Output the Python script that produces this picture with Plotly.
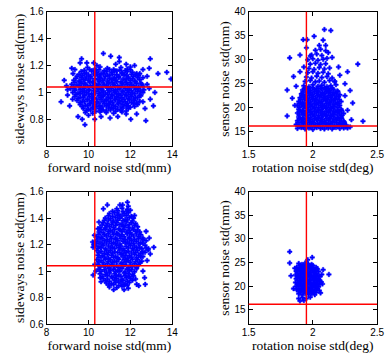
import plotly.graph_objects as go

# ---- reference (red) lines ----
fwd_ref = 10.3
side_ref = 1.04
rot_ref = 1.95
sensor_ref = 16.2

# ---- panel 1: forward vs sideways noise ----
p1 = [
    (9.95,1.185),(10.3,1.175),(10.55,1.19),(10.9,1.18),(11.2,1.17),(11.55,1.185),(11.85,1.175),
    (9.65,1.155),(9.9,1.145),(10.15,1.16),(10.4,1.15),(10.6,1.14),(10.85,1.155),(11.1,1.15),(11.35,1.16),(11.6,1.145),(11.85,1.155),(12.1,1.15),(12.3,1.14),
    (9.45,1.12),(9.7,1.125),(9.9,1.115),(10.1,1.12),(10.35,1.13),(10.55,1.115),(10.8,1.12),(11.0,1.125),(11.25,1.11),(11.45,1.12),(11.7,1.13),(11.9,1.115),(12.15,1.12),(12.4,1.125),(12.6,1.11),
    (9.3,1.09),(9.55,1.085),(9.75,1.095),(10.0,1.09),(10.2,1.08),(10.45,1.095),(10.65,1.09),(10.9,1.085),(11.1,1.095),(11.3,1.09),(11.55,1.08),(11.75,1.095),(12.0,1.09),(12.2,1.085),(12.45,1.095),
    (9.2,1.06),(9.45,1.055),(9.65,1.065),(9.85,1.06),(10.1,1.05),(10.3,1.065),(10.5,1.06),(10.75,1.055),(10.95,1.065),(11.2,1.06),(11.4,1.05),(11.6,1.065),(11.85,1.06),(12.05,1.055),(12.3,1.065),(12.55,1.06),
    (9.15,1.03),(9.35,1.025),(9.6,1.035),(9.8,1.03),(10.0,1.02),(10.25,1.035),(10.45,1.03),(10.65,1.025),(10.9,1.035),(11.1,1.03),(11.3,1.02),(11.5,1.035),(11.75,1.03),(11.95,1.025),(12.2,1.035),(12.4,1.03),(12.65,1.02),
    (9.25,1.0),(9.5,0.995),(9.7,1.005),(9.9,1.0),(10.15,0.99),(10.35,1.005),(10.6,1.0),(10.8,0.995),(11.0,1.005),(11.25,1.0),(11.45,0.99),(11.65,1.005),(11.9,1.0),(12.1,0.995),(12.35,1.005),(12.6,1.0),
    (9.35,0.97),(9.6,0.965),(9.8,0.975),(10.05,0.97),(10.25,0.96),(10.5,0.975),(10.7,0.97),(10.95,0.965),(11.15,0.975),(11.35,0.97),(11.6,0.96),(11.8,0.975),(12.05,0.97),(12.25,0.965),(12.5,0.975),
    (9.45,0.94),(9.7,0.935),(9.95,0.945),(10.15,0.94),(10.4,0.93),(10.6,0.945),(10.85,0.94),(11.05,0.935),(11.3,0.945),(11.5,0.94),(11.75,0.93),(11.95,0.945),(12.2,0.94),(12.45,0.935),
    (9.6,0.91),(9.85,0.905),(10.1,0.915),(10.3,0.91),(10.55,0.9),(10.75,0.915),(11.0,0.91),(11.2,0.905),(11.45,0.915),(11.65,0.91),(11.9,0.9),(12.15,0.915),(12.35,0.91),
    (9.75,0.88),(10.0,0.875),(10.25,0.885),(10.5,0.88),(10.7,0.87),(10.95,0.885),(11.2,0.88),(11.4,0.875),(11.65,0.885),(11.9,0.88),
    (9.85,0.85),(10.2,0.845),(10.55,0.855),(10.85,0.85),(11.2,0.845),(11.6,0.855),
    (8.69,0.93),(8.84,1.09),(8.95,1.05),(9.0,0.98),(9.1,0.9),(9.24,0.95),(9.26,1.14),(9.35,1.17),(9.67,1.25),(9.6,1.22),
    (9.92,1.22),(10.25,1.22),(10.4,1.2),(10.71,1.29),(11.06,1.27),(11.3,1.21),(11.47,1.23),(11.47,1.26),(11.8,1.21),(12.0,1.19),
    (12.2,1.2),(12.6,1.17),(12.95,1.25),(12.9,1.18),(12.8,1.12),(13.32,1.14),(13.74,1.15),(13.94,1.1),(12.74,0.79),(9.83,0.76),
    (11.03,0.81),(12.02,0.8),(13.1,0.9),(13.17,1.0),(12.9,1.03),(12.95,0.95),(9.5,0.82),(9.7,0.8),(10.3,0.8),(10.6,0.82),
    (11.4,0.82),(12.3,0.84),(12.7,0.88),(9.2,1.18),(9.0,1.02),(12.8,1.06),(10.0,0.83),(11.8,0.84),(12.6,0.93),
]
p1_core = [
    (9.8,1.165),(10.05,1.17),(10.3,1.16),(10.5,1.168),(10.75,1.162),(11.0,1.17),(11.25,1.16),(11.5,1.166),(11.75,1.162),(12.0,1.168),
    (9.55,1.135),(9.8,1.14),(10.0,1.13),(10.25,1.138),(10.45,1.132),(10.7,1.14),(10.9,1.13),(11.15,1.136),(11.35,1.132),(11.6,1.14),(11.8,1.13),(12.05,1.136),(12.25,1.132),(12.45,1.14),
    (9.4,1.105),(9.65,1.11),(9.85,1.1),(10.1,1.108),(10.3,1.102),(10.55,1.11),(10.75,1.1),(11.0,1.106),(11.2,1.102),(11.45,1.11),(11.65,1.1),(11.9,1.106),(12.1,1.102),(12.35,1.11),
    (9.35,1.075),(9.6,1.08),(9.8,1.07),(10.05,1.078),(10.25,1.072),(10.5,1.08),(10.7,1.07),(10.95,1.076),(11.15,1.072),(11.35,1.08),(11.6,1.07),(11.8,1.076),(12.0,1.072),(12.25,1.08),(12.5,1.07),
    (9.3,1.045),(9.55,1.05),(9.75,1.04),(9.95,1.048),(10.2,1.042),(10.4,1.05),(10.6,1.04),(10.85,1.046),(11.05,1.042),(11.25,1.05),(11.5,1.04),(11.7,1.046),(11.95,1.042),(12.15,1.05),(12.4,1.04),(12.6,1.046),
    (9.35,1.015),(9.6,1.02),(9.8,1.01),(10.05,1.018),(10.25,1.012),(10.5,1.02),(10.7,1.01),(10.95,1.016),(11.2,1.012),(11.4,1.02),(11.6,1.01),(11.85,1.016),(12.05,1.012),(12.25,1.02),(12.5,1.01),
    (9.4,0.985),(9.6,0.99),(9.8,0.98),(10.0,0.988),(10.25,0.982),(10.5,0.99),(10.7,0.98),(10.9,0.986),(11.1,0.982),(11.35,0.99),(11.55,0.98),(11.75,0.986),(12.0,0.982),(12.2,0.99),(12.45,0.98),
    (9.5,0.955),(9.75,0.96),(9.95,0.95),(10.2,0.958),(10.4,0.952),(10.6,0.96),(10.85,0.95),(11.05,0.956),(11.25,0.952),(11.45,0.96),(11.7,0.95),(11.9,0.956),(12.15,0.952),(12.35,0.96),
    (9.6,0.925),(9.8,0.93),(10.05,0.92),(10.25,0.928),(10.5,0.922),(10.7,0.93),(10.95,0.92),(11.15,0.926),(11.4,0.922),(11.6,0.93),(11.85,0.92),(12.05,0.926),(12.3,0.922),
    (9.7,0.895),(9.95,0.9),(10.2,0.89),(10.4,0.898),(10.65,0.892),(10.85,0.9),(11.1,0.89),(11.3,0.896),(11.55,0.892),(11.8,0.9),(12.0,0.89),(12.2,0.896),
    (9.9,0.865),(10.1,0.87),(10.35,0.86),(10.6,0.868),(10.85,0.862),(11.05,0.87),(11.3,0.86),(11.55,0.866),(11.8,0.862),
]

# ---- panel 2: rotation vs sensor noise ----
p2 = [
    (1.88,15.7),(1.91,15.9),(1.94,15.6),(1.97,15.8),(2.0,15.5),(2.03,15.9),(2.06,15.7),(2.09,15.6),(2.12,15.8),(2.15,15.6),(2.18,15.9),(2.21,15.7),(2.24,15.8),
    (1.87,16.5),(1.9,16.3),(1.93,16.7),(1.96,16.4),(1.99,16.6),(2.02,16.3),(2.05,16.5),(2.08,16.7),(2.11,16.4),(2.14,16.6),(2.17,16.3),(2.2,16.5),(2.23,16.7),(2.26,16.4),
    (1.88,17.3),(1.91,17.5),(1.94,17.2),(1.97,17.4),(2.0,17.1),(2.03,17.5),(2.06,17.3),(2.09,17.2),(2.12,17.4),(2.15,17.1),(2.18,17.5),(2.21,17.3),(2.24,17.2),
    (1.89,18.1),(1.92,17.9),(1.95,18.3),(1.98,18.0),(2.01,18.2),(2.04,17.9),(2.07,18.1),(2.1,18.3),(2.13,18.0),(2.16,18.2),(2.19,17.9),(2.22,18.1),
    (1.88,18.9),(1.91,19.1),(1.94,18.8),(1.97,19.0),(2.0,18.7),(2.03,19.1),(2.06,18.9),(2.09,18.8),(2.12,19.0),(2.15,18.7),(2.18,19.1),(2.21,18.9),(2.24,18.8),
    (1.89,19.7),(1.92,19.5),(1.95,19.9),(1.98,19.6),(2.01,19.8),(2.04,19.5),(2.07,19.7),(2.1,19.9),(2.13,19.6),(2.16,19.8),(2.19,19.5),(2.22,19.7),
    (1.88,20.5),(1.91,20.7),(1.94,20.4),(1.97,20.6),(2.0,20.3),(2.03,20.7),(2.06,20.5),(2.09,20.4),(2.12,20.6),(2.15,20.3),(2.18,20.7),(2.21,20.5),
    (1.89,21.3),(1.92,21.1),(1.95,21.5),(1.98,21.2),(2.01,21.4),(2.04,21.1),(2.07,21.3),(2.1,21.5),(2.13,21.2),(2.16,21.4),(2.19,21.1),(2.22,21.3),
    (1.9,22.1),(1.93,22.3),(1.96,22.0),(1.99,22.2),(2.02,21.9),(2.05,22.3),(2.08,22.1),(2.11,22.0),(2.14,22.2),(2.17,21.9),(2.2,22.3),
    (1.91,22.9),(1.94,22.7),(1.97,23.1),(2.0,22.8),(2.03,23.0),(2.06,22.7),(2.09,22.9),(2.12,23.1),(2.15,22.8),(2.18,23.0),(2.21,22.7),
    (1.92,23.7),(1.95,23.9),(1.98,23.6),(2.01,23.8),(2.04,23.5),(2.07,23.9),(2.1,23.7),(2.13,23.6),(2.16,23.8),(2.19,23.5),
    (1.93,24.6),(1.97,24.4),(2.0,24.8),(2.04,24.5),(2.07,24.7),(2.11,24.4),(2.14,24.6),(2.18,24.8),
    (1.94,25.5),(1.98,25.7),(2.02,25.4),(2.05,25.6),(2.09,25.3),(2.13,25.7),(2.17,25.5),
    (1.95,26.4),(1.99,26.2),(2.03,26.6),(2.07,26.3),(2.11,26.5),(2.15,26.2),
    (1.96,27.3),(2.0,27.5),(2.04,27.2),(2.08,27.4),(2.12,27.1),
    (1.97,28.2),(2.01,28.0),(2.05,28.4),(2.09,28.1),(2.13,28.3),
    (1.98,29.1),(2.02,29.3),(2.06,29.0),(2.1,29.2),
    (1.96,30.0),(2.0,30.2),(2.04,29.9),(2.08,30.1),(2.11,30.3),
    (1.99,31.0),(2.03,31.2),(2.07,30.9),
    (2.02,32.0),(2.06,32.2),(2.1,31.9),
    (1.82,30.4),(1.8,23.7),(1.8,18.3),(1.9,31.0),(1.925,34.2),(1.955,34.2),(2.01,34.9),(2.09,36.3),(2.14,36.1),(2.08,34.1),
    (2.1,33.0),(2.35,29.1),(2.39,17.2),(2.29,23.6),(2.29,16.0),(2.21,26.8),(2.27,27.5),(1.85,26.5),(1.86,20.5),(1.84,22.0),
    (2.25,22.5),(2.27,19.5),(2.3,17.5),(2.2,28.5),(2.15,30.5),(1.93,28.5),(1.9,27.5),(1.95,32.5),(2.05,33.0),(2.17,25.5),
    (2.25,25.0),(2.12,31.5),(1.98,30.8),(1.87,24.5),(2.31,21.0),(2.24,16.8),(2.27,15.8),
]
p2_core = [
    (1.895,16.1),(1.925,16.0),(1.955,16.2),(1.985,16.0),(2.015,16.1),(2.045,16.2),(2.075,16.0),(2.105,16.1),(2.135,16.2),(2.165,16.0),(2.195,16.1),(2.225,16.2),(2.255,16.0),
    (1.885,16.9),(1.915,17.0),(1.945,16.8),(1.975,17.0),(2.005,16.9),(2.035,16.8),(2.065,17.0),(2.095,16.9),(2.125,16.8),(2.155,17.0),(2.185,16.9),(2.215,16.8),(2.245,17.0),
    (1.895,17.7),(1.925,17.6),(1.955,17.8),(1.985,17.6),(2.015,17.7),(2.045,17.8),(2.075,17.6),(2.105,17.7),(2.135,17.8),(2.165,17.6),(2.195,17.7),(2.225,17.8),
    (1.895,18.5),(1.925,18.6),(1.955,18.4),(1.985,18.6),(2.015,18.5),(2.045,18.4),(2.075,18.6),(2.105,18.5),(2.135,18.4),(2.165,18.6),(2.195,18.5),(2.225,18.4),
    (1.895,19.3),(1.925,19.2),(1.955,19.4),(1.985,19.2),(2.015,19.3),(2.045,19.4),(2.075,19.2),(2.105,19.3),(2.135,19.4),(2.165,19.2),(2.195,19.3),(2.225,19.4),
    (1.895,20.1),(1.925,20.2),(1.955,20.0),(1.985,20.2),(2.015,20.1),(2.045,20.0),(2.075,20.2),(2.105,20.1),(2.135,20.0),(2.165,20.2),(2.195,20.1),
    (1.895,20.9),(1.925,20.8),(1.955,21.0),(1.985,20.8),(2.015,20.9),(2.045,21.0),(2.075,20.8),(2.105,20.9),(2.135,21.0),(2.165,20.8),(2.195,20.9),
    (1.905,21.7),(1.935,21.8),(1.965,21.6),(1.995,21.8),(2.025,21.7),(2.055,21.6),(2.085,21.8),(2.115,21.7),(2.145,21.6),(2.175,21.8),(2.205,21.7),
    (1.915,22.5),(1.945,22.4),(1.975,22.6),(2.005,22.4),(2.035,22.5),(2.065,22.6),(2.095,22.4),(2.125,22.5),(2.155,22.6),(2.185,22.4),
    (1.925,23.3),(1.955,23.4),(1.985,23.2),(2.015,23.4),(2.045,23.3),(2.075,23.2),(2.105,23.4),(2.135,23.3),(2.165,23.2),(2.195,23.4),
    (1.94,24.1),(1.97,24.0),(2.0,24.2),(2.03,24.0),(2.06,24.1),(2.09,24.2),(2.12,24.0),(2.15,24.1),
]

# ---- panel 3: forward vs sideways noise (second run) ----
p3 = [
    (11.35,1.47),(11.6,1.475),(11.85,1.465),
    (11.0,1.435),(11.25,1.44),(11.45,1.43),(11.7,1.435),(11.9,1.44),
    (10.8,1.4),(11.05,1.395),(11.3,1.405),(11.5,1.4),(11.75,1.39),(11.95,1.405),(12.15,1.4),
    (10.7,1.365),(10.9,1.36),(11.15,1.37),(11.35,1.365),(11.6,1.355),(11.8,1.37),(12.05,1.365),(12.25,1.36),
    (10.55,1.33),(10.8,1.325),(11.0,1.335),(11.2,1.33),(11.45,1.32),(11.65,1.335),(11.9,1.33),(12.1,1.325),(12.35,1.335),
    (10.5,1.295),(10.7,1.29),(10.95,1.3),(11.15,1.295),(11.35,1.285),(11.6,1.3),(11.8,1.295),(12.0,1.29),(12.25,1.3),(12.45,1.295),
    (10.4,1.26),(10.6,1.255),(10.85,1.265),(11.05,1.26),(11.3,1.25),(11.5,1.265),(11.7,1.26),(11.95,1.255),(12.15,1.265),(12.4,1.26),(12.6,1.25),
    (10.35,1.225),(10.55,1.22),(10.75,1.23),(11.0,1.225),(11.2,1.215),(11.4,1.23),(11.65,1.225),(11.85,1.22),(12.05,1.23),(12.3,1.225),(12.5,1.215),(12.75,1.23),
    (10.3,1.19),(10.5,1.185),(10.7,1.195),(10.95,1.19),(11.15,1.18),(11.35,1.195),(11.55,1.19),(11.8,1.185),(12.0,1.195),(12.2,1.19),(12.45,1.18),(12.7,1.195),
    (10.4,1.155),(10.6,1.15),(10.85,1.16),(11.05,1.155),(11.25,1.145),(11.5,1.16),(11.7,1.155),(11.9,1.15),(12.15,1.16),(12.35,1.155),(12.6,1.145),(12.85,1.16),
    (10.45,1.12),(10.65,1.115),(10.9,1.125),(11.1,1.12),(11.3,1.11),(11.55,1.125),(11.75,1.12),(11.95,1.115),(12.2,1.125),(12.4,1.12),(12.6,1.11),
    (10.4,1.085),(10.6,1.08),(10.8,1.09),(11.05,1.085),(11.25,1.075),(11.45,1.09),(11.7,1.085),(11.9,1.08),(12.1,1.09),(12.35,1.085),(12.55,1.075),
    (10.45,1.05),(10.7,1.045),(10.9,1.055),(11.1,1.05),(11.35,1.04),(11.55,1.055),(11.75,1.05),(12.0,1.045),(12.2,1.055),(12.4,1.05),
    (10.5,1.015),(10.75,1.01),(10.95,1.02),(11.2,1.015),(11.4,1.005),(11.6,1.02),(11.85,1.015),(12.05,1.01),(12.3,1.02),
    (10.55,0.98),(10.8,0.975),(11.0,0.985),(11.25,0.98),(11.45,0.97),(11.7,0.985),(11.9,0.98),(12.1,0.975),
    (10.7,0.945),(10.9,0.94),(11.15,0.95),(11.35,0.945),(11.6,0.935),(11.8,0.95),(12.0,0.945),(12.25,0.94),
    (10.85,0.91),(11.1,0.905),(11.3,0.915),(11.55,0.91),(11.75,0.9),(11.95,0.915),
    (11.0,0.88),(11.35,0.875),(11.6,0.885),(11.9,0.87),
    (10.25,1.2),(10.22,1.18),(10.2,1.22),(10.28,1.27),(10.22,0.97),(10.3,1.05),(10.35,1.0),(10.56,0.95),(12.71,0.9),(12.4,0.89),
    (10.71,1.47),(11.63,1.5),(11.86,1.52),(11.9,1.49),(12.86,1.17),(13.12,1.18),(12.95,1.13),(12.9,1.25),(12.68,0.95),(12.6,1.0),
    (10.9,1.5),(12.2,1.42),(12.0,1.46),(10.5,1.37),(10.45,1.32),(11.2,0.86),(11.7,0.86),(12.3,0.9),(10.6,0.92),(12.8,1.08),
    (12.75,1.3),(11.5,1.5),
]
p3_core = [
    (11.15,1.452),(11.4,1.456),(11.65,1.448),(11.85,1.454),
    (10.95,1.418),(11.15,1.414),(11.4,1.422),(11.6,1.416),(11.8,1.42),(12.05,1.414),
    (10.75,1.382),(10.95,1.386),(11.2,1.378),(11.4,1.384),(11.65,1.38),(11.85,1.386),(12.1,1.378),
    (10.65,1.348),(10.85,1.344),(11.1,1.352),(11.3,1.346),(11.5,1.35),(11.75,1.344),(11.95,1.352),(12.2,1.346),
    (10.6,1.312),(10.8,1.316),(11.05,1.308),(11.25,1.314),(11.5,1.31),(11.7,1.316),(11.95,1.308),(12.15,1.314),(12.35,1.31),
    (10.5,1.278),(10.75,1.274),(10.95,1.282),(11.2,1.276),(11.4,1.28),(11.6,1.274),(11.85,1.282),(12.05,1.276),(12.3,1.28),(12.5,1.274),
    (10.45,1.242),(10.65,1.246),(10.9,1.238),(11.1,1.244),(11.3,1.24),(11.55,1.246),(11.75,1.238),(11.95,1.244),(12.2,1.24),(12.4,1.246),(12.6,1.238),
    (10.4,1.208),(10.65,1.204),(10.85,1.212),(11.1,1.206),(11.3,1.21),(11.5,1.204),(11.75,1.212),(11.95,1.206),(12.15,1.21),(12.4,1.204),(12.6,1.212),
    (10.45,1.172),(10.6,1.176),(10.8,1.168),(11.05,1.174),(11.25,1.17),(11.45,1.176),(11.65,1.168),(11.9,1.174),(12.1,1.17),(12.3,1.176),(12.55,1.168),(12.75,1.174),
    (10.5,1.138),(10.75,1.134),(10.95,1.142),(11.15,1.136),(11.4,1.14),(11.6,1.134),(11.8,1.142),(12.05,1.136),(12.25,1.14),(12.5,1.134),(12.7,1.142),
    (10.5,1.102),(10.75,1.106),(10.95,1.098),(11.2,1.104),(11.4,1.1),(11.65,1.106),(11.85,1.098),(12.05,1.104),(12.3,1.1),(12.5,1.106),
    (10.5,1.068),(10.7,1.064),(10.95,1.072),(11.15,1.066),(11.35,1.07),(11.6,1.064),(11.8,1.072),(12.0,1.066),(12.25,1.07),(12.45,1.064),
    (10.55,1.032),(10.8,1.036),(11.0,1.028),(11.25,1.034),(11.45,1.03),(11.65,1.036),(11.9,1.028),(12.1,1.034),(12.3,1.03),
    (10.6,0.998),(10.85,0.994),(11.05,1.002),(11.3,0.996),(11.5,1.0),(11.75,0.994),(11.95,1.002),(12.2,0.996),
    (10.65,0.962),(10.9,0.966),(11.1,0.958),(11.3,0.964),(11.55,0.96),(11.75,0.966),(11.95,0.958),(12.15,0.964),
    (10.8,0.928),(11.0,0.924),(11.25,0.932),(11.45,0.926),(11.65,0.93),(11.85,0.924),(12.1,0.932),
    (10.95,0.895),(11.2,0.899),(11.45,0.891),(11.7,0.897),(11.85,0.893),
]

# ---- panel 4: rotation vs sensor noise (second run) ----
p4 = [
    (1.92,17.6),(1.95,17.4),(1.98,17.7),
    (1.89,18.4),(1.915,18.2),(1.94,18.5),(1.965,18.3),(1.99,18.5),(2.015,18.2),
    (1.875,19.2),(1.9,19.0),(1.925,19.3),(1.95,19.1),(1.975,19.3),(2.0,19.0),(2.025,19.2),(2.05,19.1),
    (1.87,20.0),(1.895,20.2),(1.92,19.9),(1.945,20.1),(1.97,19.8),(1.995,20.2),(2.02,20.0),(2.045,19.9),
    (1.865,20.8),(1.89,20.6),(1.915,20.9),(1.94,20.7),(1.965,20.9),(1.99,20.6),(2.015,20.8),(2.04,20.7),(2.065,20.9),
    (1.87,21.6),(1.895,21.8),(1.92,21.5),(1.945,21.7),(1.97,21.4),(1.995,21.8),(2.02,21.6),(2.045,21.5),
    (1.865,22.4),(1.89,22.2),(1.915,22.5),(1.94,22.3),(1.965,22.5),(1.99,22.2),(2.015,22.4),(2.04,22.3),(2.07,22.5),
    (1.87,23.2),(1.895,23.4),(1.92,23.1),(1.945,23.3),(1.97,23.0),(1.995,23.4),(2.02,23.2),(2.045,23.1),
    (1.875,24.0),(1.9,23.8),(1.925,24.1),(1.95,23.9),(1.975,24.1),(2.0,23.8),(2.025,24.0),
    (1.89,24.8),(1.915,24.6),(1.94,24.9),(1.965,24.7),(1.99,24.6),
    (1.82,27.3),(1.82,24.9),(1.83,22.2),(1.995,26.1),(2.125,22.5),(2.075,20.5),(1.89,17.4),(1.9,16.9),(1.86,23.8),(1.85,19.5),
    (2.08,23.5),(2.06,18.6),(1.96,25.6),(1.93,17.0),
]
p4_core = [
    (1.9,18.8),(1.925,18.9),(1.95,18.7),(1.975,18.9),(2.0,18.8),(2.025,18.7),
    (1.885,19.6),(1.91,19.5),(1.935,19.7),(1.96,19.5),(1.985,19.6),(2.01,19.7),(2.035,19.5),
    (1.88,20.4),(1.905,20.5),(1.93,20.3),(1.955,20.5),(1.98,20.4),(2.005,20.3),(2.03,20.5),(2.055,20.4),
    (1.88,21.2),(1.905,21.1),(1.93,21.3),(1.955,21.1),(1.98,21.2),(2.005,21.3),(2.03,21.1),(2.055,21.2),
    (1.88,22.0),(1.905,22.1),(1.93,21.9),(1.955,22.1),(1.98,22.0),(2.005,21.9),(2.03,22.1),(2.055,22.0),
    (1.88,22.8),(1.905,22.7),(1.93,22.9),(1.955,22.7),(1.98,22.8),(2.005,22.9),(2.03,22.7),
    (1.885,23.6),(1.91,23.7),(1.935,23.5),(1.96,23.7),(1.985,23.6),(2.01,23.5),(2.035,23.7),
    (1.9,24.4),(1.925,24.3),(1.95,24.5),(1.975,24.3),(2.0,24.4),
]

# ---- axis ticks ----
fwd_ticks = [8, 10, 12, 14]
side_ticks_top = [0.8, 1.0, 1.2, 1.4, 1.6]
side_text_top = ["0.8", "1", "1.2", "1.4", "1.6"]
side_ticks_bot = [0.6, 0.8, 1.0, 1.2, 1.4, 1.6]
side_text_bot = ["0.6", "0.8", "1", "1.2", "1.4", "1.6"]
rot_ticks = [1.5, 2.0, 2.5]
rot_text = ["1.5", "2", "2.5"]
sensor_ticks = [15, 20, 25, 30, 35, 40]

BLUE = "#0000ff"
RED = "#ff0000"

fig = go.Figure()

panels = [
    (p1 + p1_core, "x", "y", fwd_ref, side_ref),
    (p2 + p2_core, "x2", "y2", rot_ref, sensor_ref),
    (p3 + p3_core, "x3", "y3", fwd_ref, side_ref),
    (p4 + p4_core, "x4", "y4", rot_ref, sensor_ref),
]
for pts, xa, ya, vx, hy in panels:
    fig.add_trace(go.Scatter(
        x=[p[0] for p in pts], y=[p[1] for p in pts],
        mode="markers", xaxis=xa, yaxis=ya, showlegend=False, hoverinfo="skip",
        marker=dict(symbol="cross", size=3.8, color=BLUE,
                    line=dict(width=0.5, color=BLUE)),
    ))
    fig.add_shape(type="line", xref=xa, yref=ya + " domain", x0=vx, x1=vx, y0=0, y1=1,
                  line=dict(color=RED, width=1.4), layer="above")
    fig.add_shape(type="line", xref=xa + " domain", yref=ya, x0=0, x1=1, y0=hy, y1=hy,
                  line=dict(color=RED, width=1.4), layer="above")

tickfont = dict(family="Liberation Sans, Arial, sans-serif", size=10, color="black")
titlefont = dict(family="Liberation Serif, Times New Roman, serif", size=13.5, color="black")

common = dict(showline=True, linecolor="black", linewidth=1, mirror="ticks",
              ticks="inside", ticklen=4, tickcolor="black", tickwidth=1,
              showgrid=False, zeroline=False, tickfont=tickfont)

xl = [41/386, 171/386]
xr = [250/386, 383/386]
yt = [1 - 145/362, 1 - 6/362]
yb = [1 - 329/362, 1 - 192/362]

xt_title = dict(font=titlefont, standoff=2)
yt_title = dict(font=titlefont, standoff=1)

fig.update_layout(
    width=386, height=362, margin=dict(l=0, r=0, t=0, b=0),
    paper_bgcolor="white", plot_bgcolor="white",
    xaxis=dict(domain=xl, range=[8, 14], tickvals=fwd_ticks, anchor="y", ticklabelstandoff=-1,
               title=dict(text="forward noise std(mm)", **xt_title), **common),
    yaxis=dict(domain=yt, range=[0.6, 1.6], tickvals=side_ticks_top, ticktext=side_text_top, anchor="x",
               title=dict(text="sideways noise std(mm)", **yt_title), **common),
    xaxis2=dict(domain=xr, range=[1.5, 2.5], tickvals=rot_ticks, ticktext=rot_text, anchor="y2", ticklabelstandoff=-1,
                title=dict(text="rotation noise std(deg)", **xt_title), **common),
    yaxis2=dict(domain=yt, range=[12, 40], tickvals=sensor_ticks, anchor="x2",
                title=dict(text="sensor noise std(mm)", **yt_title), **common),
    xaxis3=dict(domain=xl, range=[8, 14], tickvals=fwd_ticks, anchor="y3", ticklabelstandoff=-1,
                title=dict(text="forward noise std(mm)", **xt_title), **common),
    yaxis3=dict(domain=yb, range=[0.6, 1.6], tickvals=side_ticks_bot, ticktext=side_text_bot, anchor="x3",
                title=dict(text="sideways noise std(mm)", **yt_title), **common),
    xaxis4=dict(domain=xr, range=[1.5, 2.5], tickvals=rot_ticks, ticktext=rot_text, anchor="y4", ticklabelstandoff=-1,
                title=dict(text="rotation noise std(deg)", **xt_title), **common),
    yaxis4=dict(domain=yb, range=[12, 40], tickvals=sensor_ticks, anchor="x4",
                title=dict(text="sensor noise std(mm)", **yt_title), **common),
)

fig.write_html("out.html", config={"displayModeBar": False},
               post_script="document.body.style.margin='0';")
